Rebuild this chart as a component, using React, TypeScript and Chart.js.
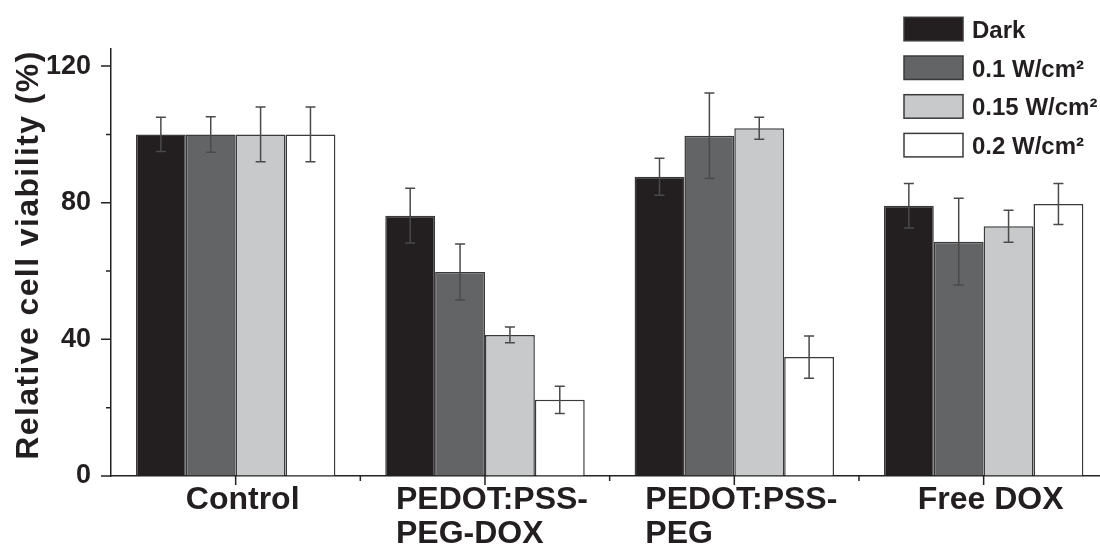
import React, { useEffect, useRef } from "react";
import { Chart, registerables } from "chart.js";

Chart.register(...registerables);

// ---- data ----
const categories: string[][] = [["Control"], ["PEDOT:PSS-", "PEG-DOX"], ["PEDOT:PSS-", "PEG"], ["Free DOX"]];
const seriesLabels = ["Dark", "0.1 W/cm²", "0.15 W/cm²", "0.2 W/cm²"];
const darkValues = [100, 76.2, 87.6, 79.1];
const w01Values = [100, 59.7, 99.6, 68.6];
const w015Values = [100, 41.3, 101.8, 73.1];
const w02Values = [100, 22.3, 34.8, 79.6];
const darkErrors = [5, 8, 5.4, 6.5];
const w01Errors = [5.2, 8.2, 12.5, 12.7];
const w015Errors = [8, 2.3, 3.2, 4.7];
const w02Errors = [8, 4, 6.2, 6];
const yTicks = [0, 20, 40, 60, 80, 100, 120];
const yLabelledTicks = [0, 40, 80, 120];
const yTitle = "Relative cell viability (%)";

const seriesColors = ["#231f20", "#636466", "#c8c9cb", "#ffffff"];
const FONT = "'Liberation Sans', Arial, sans-serif";
const INK = "#231f20";

const customPlugin = {
  id: "customDecor",
  afterDatasetsDraw(chart: any) {
    const ctx = chart.ctx;
    const y = chart.scales.y;
    ctx.save();
    ctx.strokeStyle = "#4a4a4a";
    ctx.lineWidth = 1.5;
    chart.data.datasets.forEach((ds: any, i: number) => {
      const meta = chart.getDatasetMeta(i);
      ds.errors.forEach((e: number, j: number) => {
        const bar = meta.data[j];
        const v = ds.data[j];
        const top = y.getPixelForValue(v + e);
        const bot = y.getPixelForValue(v - e);
        const cx = bar.x;
        ctx.beginPath();
        ctx.moveTo(cx, top);
        ctx.lineTo(cx, bot);
        ctx.moveTo(cx - 5, top);
        ctx.lineTo(cx + 5, top);
        ctx.moveTo(cx - 5, bot);
        ctx.lineTo(cx + 5, bot);
        ctx.stroke();
      });
    });
    ctx.restore();
  },
  afterDraw(chart: any) {
    const ctx = chart.ctx;
    const x = chart.scales.x;
    const y = chart.scales.y;
    const { left, bottom } = chart.chartArea;
    ctx.save();
    // axis ticks
    ctx.strokeStyle = "#222";
    ctx.lineWidth = 1.5;
    ctx.beginPath();
    yTicks.forEach((v) => {
      const py = y.getPixelForValue(v);
      const len = yLabelledTicks.includes(v) ? 10 : 5;
      ctx.moveTo(left - len, py);
      ctx.lineTo(left, py);
    });
    const centers = categories.map((_, i) => x.getPixelForValue(i));
    centers.forEach((cx, i) => {
      ctx.moveTo(cx, bottom);
      ctx.lineTo(cx, bottom + 9);
      if (i < centers.length - 1) {
        const mx = (cx + centers[i + 1]) / 2;
        ctx.moveTo(mx, bottom);
        ctx.lineTo(mx, bottom + 5);
      }
    });
    ctx.stroke();

    // category labels (left-aligned block, centred on tick)
    ctx.fillStyle = INK;
    ctx.font = `bold 32px ${FONT}`;
    ctx.textAlign = "left";
    ctx.textBaseline = "alphabetic";
    categories.forEach((lines, i) => {
      const maxW = Math.max(...lines.map((l) => ctx.measureText(l).width));
      const sx = centers[i] - maxW / 2 + 7;
      lines.forEach((l, k) => {
        ctx.fillText(l, sx, bottom + 33 + k * 34);
      });
    });

    // legend
    ctx.font = `bold 24px ${FONT}`;
    chart.data.datasets.forEach((ds: any, i: number) => {
      const top = 17.3 + i * 38.7;
      ctx.fillStyle = ds.backgroundColor;
      ctx.fillRect(904, top, 59, 23.5);
      ctx.strokeStyle = "#3a3a3a";
      ctx.lineWidth = 1.5;
      ctx.strokeRect(904, top, 59, 23.5);
      ctx.fillStyle = INK;
      ctx.fillText(ds.label, 972, top + 20.5);
    });

    // y title
    ctx.translate(38, 255);
    ctx.rotate(-Math.PI / 2);
    ctx.font = `bold 32px ${FONT}`;
    (ctx as any).letterSpacing = "1.4px";
    ctx.textAlign = "center";
    ctx.fillStyle = INK;
    ctx.fillText(yTitle, 0, 0);
    ctx.restore();
  },
};

export default function App() {
  const ref = useRef<HTMLCanvasElement>(null);
  useEffect(() => {
    const valueSets = [darkValues, w01Values, w015Values, w02Values];
    const errorSets = [darkErrors, w01Errors, w015Errors, w02Errors];
    const chart = new Chart(ref.current as HTMLCanvasElement, {
      type: "bar",
      data: {
        labels: categories.map((c) => c.join(" ")),
        datasets: valueSets.map((vals, i) => ({
          label: seriesLabels[i],
          data: vals,
          errors: errorSets[i],
          backgroundColor: seriesColors[i],
          borderColor: "#3a3a3a",
          borderWidth: 1.5,
          categoryPercentage: 0.8,
          barPercentage: 1.0,
        })) as any,
      },
      options: {
        animation: false,
        responsive: false,
        devicePixelRatio: 1,
        layout: { padding: { left: 0, right: 11.7, top: 49, bottom: 0 } },
        plugins: { legend: { display: false }, tooltip: { enabled: false } },
        scales: {
          x: {
            type: "category",
            offset: true,
            grid: { display: true, drawOnChartArea: false, drawTicks: false },
            border: { display: true, color: "#222", width: 1.5 },
            ticks: { display: false },
            afterFit: (s: any) => {
              s.height = 73;
            },
          },
          y: {
            min: 0,
            max: 125,
            grid: { display: true, drawOnChartArea: false, drawTicks: false },
            border: { display: true, color: "#222", width: 1.5 },
            afterBuildTicks: (s: any) => {
              s.ticks = yTicks.map((v) => ({ value: v }));
            },
            ticks: {
              padding: 20,
              color: INK,
              font: { family: FONT, size: 27, weight: "bold" },
              callback: (v: any) => (yLabelledTicks.includes(Number(v)) ? String(v) : ""),
            },
            afterFit: (s: any) => {
              s.width = 111;
            },
          },
        },
      },
      plugins: [customPlugin],
    });
    return () => chart.destroy();
  }, []);
  return (
    <div
      style={{
        position: "absolute",
        left: 0,
        top: 0,
        width: 1100,
        height: 549,
        overflow: "hidden",
        background: "#fff",
      }}
    >
      <div style={{ width: 1120, height: 549 }}>
        <canvas ref={ref} width={1120} height={549} style={{ display: "block" }} />
      </div>
    </div>
  );
}
